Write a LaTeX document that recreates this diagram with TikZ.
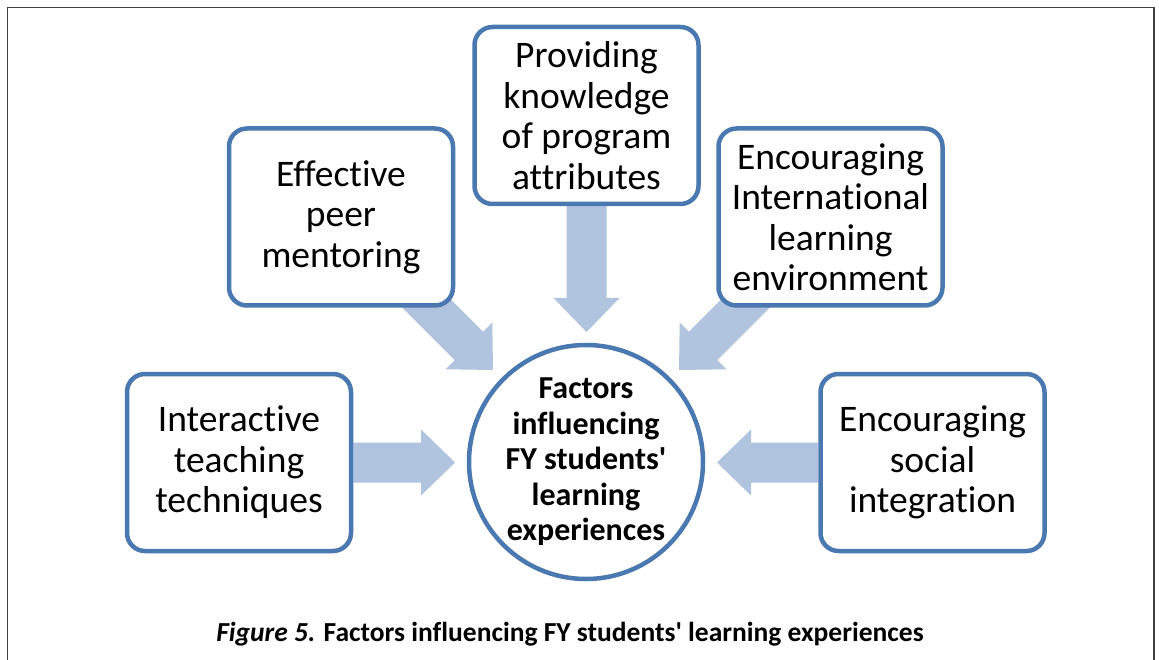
\documentclass[tikz,border=0pt]{standalone}
\usepackage{fontspec}
\setmainfont{Carlito}[Ligatures={NoCommon}]
\usetikzlibrary{calc,backgrounds}
\definecolor{boxblue}{RGB}{74,120,176}
\definecolor{arrowfill}{RGB}{176,195,223}
\definecolor{framegray}{RGB}{64,64,64}
\tikzset{
  factor/.style={draw=boxblue, line width=4.5pt, rounded corners=18pt, fill=white,
    minimum width=224pt, minimum height=177pt, inner sep=0pt, align=center,
    font=\fontsize{37.5}{40.5}\selectfont},
  hub/.style={circle, draw=boxblue, line width=4.5pt, fill=white, minimum size=234pt,
    inner sep=0pt, align=center, font=\bfseries\fontsize{32}{35.5}\selectfont},
  blockfill/.style={fill=arrowfill, draw=none},
  framestyle/.style={draw=framegray, line width=1.3pt},
  captionstyle/.style={font=\bfseries\fontsize{27.5}{30}\selectfont, anchor=base, inner sep=0pt}
}
\newcommand{\blockarrow}[2]{%
  \coordinate (ah) at ($(#2)!34pt!(#1)$);
  \path[blockfill] (#2) -- ($(ah)!33pt!90:(#2)$) -- ($(ah)!20pt!90:(#2)$)
    -- ($(#1)!20pt!90:(#2)$) -- ($(#1)!20pt!-90:(#2)$)
    -- ($(ah)!20pt!-90:(#2)$) -- ($(ah)!33pt!-90:(#2)$) -- cycle;
}
\begin{document}
\begin{tikzpicture}[x=1pt, y=-1pt]
\useasboundingbox (0,0) rectangle (1159,660);
\draw[framestyle] (7.5,660) -- (7.5,7.5) -- (1154,7.5) -- (1154,660);

\node[factor] (itt) at (239,462.5) {Interactive\\teaching\\techniques};
\node[factor] (epm) at (341,217) {Effective\\peer\\mentoring};
\node[factor] (pkp) at (586.5,115.5) {Providing\\knowledge\\of program\\attributes};
\node[factor] (eil) at (830.5,217) {Encouraging\\International\\learning\\environment};
\node[factor] (esi) at (932.5,462.5) {Encouraging\\social\\integration};
\node[hub] (hub) at (586,462) {Factors\\influencing\\FY students\textquotesingle\\learning\\experiences};

\coordinate (tipL) at (455,462.5);
\coordinate (tipT) at (586.5,332);
\coordinate (tipR) at (717,462.5);
\coordinate (tipUL) at (493,370);
\coordinate (tipUR) at (679,370);
\coordinate (startUL) at (403,280);
\coordinate (startUR) at (769,280);

\begin{scope}[on background layer]
  \fill[white] (0,0) rectangle (1159,660);
  \blockarrow{itt.east}{tipL}
  \blockarrow{pkp.south}{tipT}
  \blockarrow{esi.west}{tipR}
  \blockarrow{startUL}{tipUL}
  \blockarrow{startUR}{tipUR}
\end{scope}

\node[captionstyle] (cap) at (570,641) {\textit{Figure 5.} Factors influencing FY students\textquotesingle{} learning experiences};
\end{tikzpicture}
\end{document}
